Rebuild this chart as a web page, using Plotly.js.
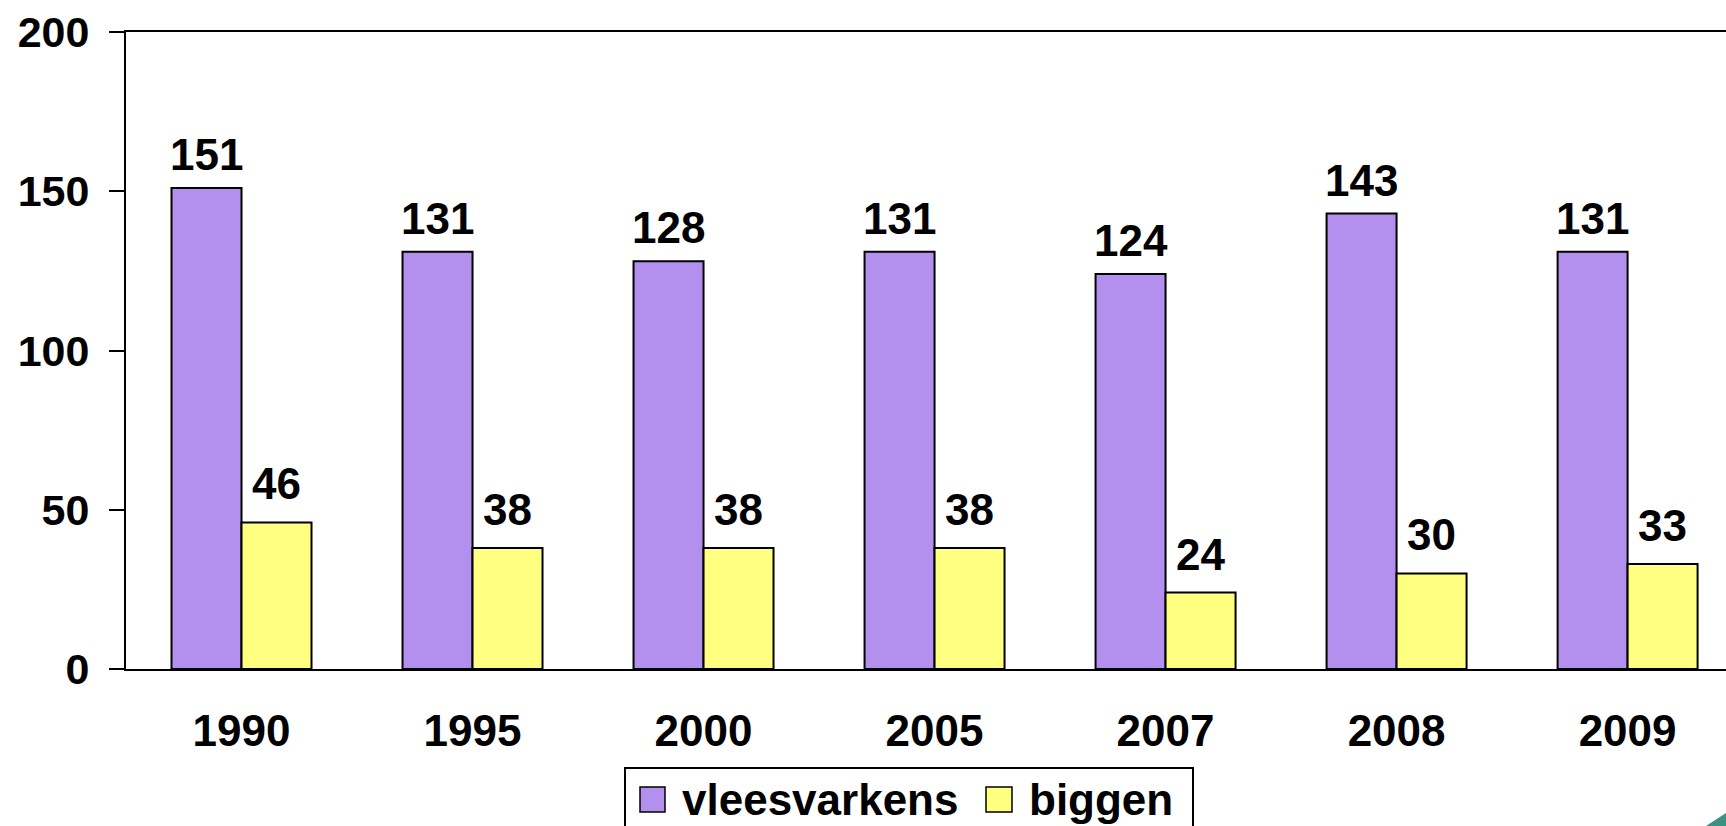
<!DOCTYPE html>
<html>
<head>
<meta charset="utf-8">
<script src="https://cdn.plot.ly/plotly-3.0.1.min.js"></script>
<style>
  html, body { margin: 0; padding: 0; background: #fff; overflow: hidden; }
  #chart { width: 1726px; height: 826px; }
</style>
</head>
<body>
<div id="chart"></div>
<script>
// values
var years = ["1990", "1995", "2000", "2005", "2007", "2008", "2009"];
var vleesvarkens = [151, 131, 128, 131, 124, 143, 131];
var biggen = [46, 38, 38, 38, 24, 30, 33];
var seriesNames = ["vleesvarkens", "biggen"];
var yTicks = [0, 50, 100, 150, 200];

var purple = "#b38fee";
var yellow = "#ffff80";
var font = "Liberation Sans, Arial, sans-serif";

// plot box in pixels, used to place the hand made legend
var L = 126, R = 1726, T = 32, B = 669;
function px(x) { return (x - L) / (R - L); }
function py(y) { return (B - y) / (B - T); }

var data = [
  {
    type: "bar", x: years, y: vleesvarkens, name: seriesNames[0],
    marker: { color: purple, line: { color: "#000", width: 2 } },
    hoverinfo: "x+y"
  },
  {
    type: "bar", x: years, y: biggen, name: seriesNames[1],
    marker: { color: yellow, line: { color: "#000", width: 2 } },
    hoverinfo: "x+y"
  }
];

var labelFont = { family: font, size: 44, color: "#000", weight: "bold" };
var annotations = [];
// value labels above each bar (x given as category index)
for (var i = 0; i < years.length; ++i) {
  annotations.push({
    x: i, y: vleesvarkens[i], xref: "x", yref: "y",
    text: String(vleesvarkens[i]), showarrow: false,
    xanchor: "center", yanchor: "bottom", xshift: -35, yshift: 7,
    font: labelFont
  });
  annotations.push({
    x: i, y: biggen[i], xref: "x", yref: "y",
    text: String(biggen[i]), showarrow: false,
    xanchor: "center", yanchor: "bottom", xshift: 35, yshift: 12,
    font: labelFont
  });
}
// legend text
annotations.push({
  x: px(680), y: py(800), xref: "paper", yref: "paper",
  text: seriesNames[0], showarrow: false, xanchor: "left", yanchor: "middle",
  font: labelFont
});
annotations.push({
  x: px(1027), y: py(800), xref: "paper", yref: "paper",
  text: seriesNames[1], showarrow: false, xanchor: "left", yanchor: "middle",
  font: labelFont
});

var shapes = [
  // legend frame
  { type: "rect", xref: "paper", yref: "paper", x0: px(625), x1: px(1193), y0: py(768), y1: py(850),
    line: { color: "#000", width: 2 }, fillcolor: "rgba(0,0,0,0)" },
  { type: "rect", xref: "paper", yref: "paper", x0: px(640), x1: px(665), y0: py(787), y1: py(812),
    line: { color: "#000", width: 1.5 }, fillcolor: purple },
  { type: "rect", xref: "paper", yref: "paper", x0: px(986), x1: px(1012), y0: py(787), y1: py(812),
    line: { color: "#000", width: 1.5 }, fillcolor: yellow },
  // corner of the logo peeking in at the bottom right
  { type: "path", xref: "paper", yref: "paper",
    path: "M " + px(1706) + " " + py(826) + " L " + px(1726) + " " + py(813) + " L " + px(1726) + " " + py(826) + " Z",
    line: { width: 0 }, fillcolor: "#3b9282" }
];

var layout = {
  width: 1726,
  height: 826,
  margin: { l: L, r: 1726 - R, t: T, b: 826 - B, pad: 0 },
  paper_bgcolor: "#fff",
  plot_bgcolor: "#fff",
  showlegend: false,
  barmode: "group",
  bargap: 0.394,
  bargroupgap: 0,
  font: { family: font, color: "#000" },
  xaxis: {
    type: "category",
    range: [-0.5, 6.426],
    showline: true, linecolor: "#000", linewidth: 2,
    mirror: true,
    ticks: "", showgrid: false, zeroline: false,
    ticklabelstandoff: 22,
    tickfont: { family: font, size: 44, color: "#000", weight: "bold" }
  },
  yaxis: {
    range: [0, 200],
    tickvals: yTicks,
    ticktext: yTicks.map(String),
    showline: true, linecolor: "#000", linewidth: 2,
    ticks: "outside", ticklen: 15, tickwidth: 2, tickcolor: "#000",
    showgrid: false, zeroline: false,
    ticklabelstandoff: 11,
    tickfont: { family: font, size: 43, color: "#000", weight: "bold" }
  },
  annotations: annotations,
  shapes: shapes
};

Plotly.newPlot("chart", data, layout, { displayModeBar: false, staticPlot: true });
</script>
</body>
</html>
